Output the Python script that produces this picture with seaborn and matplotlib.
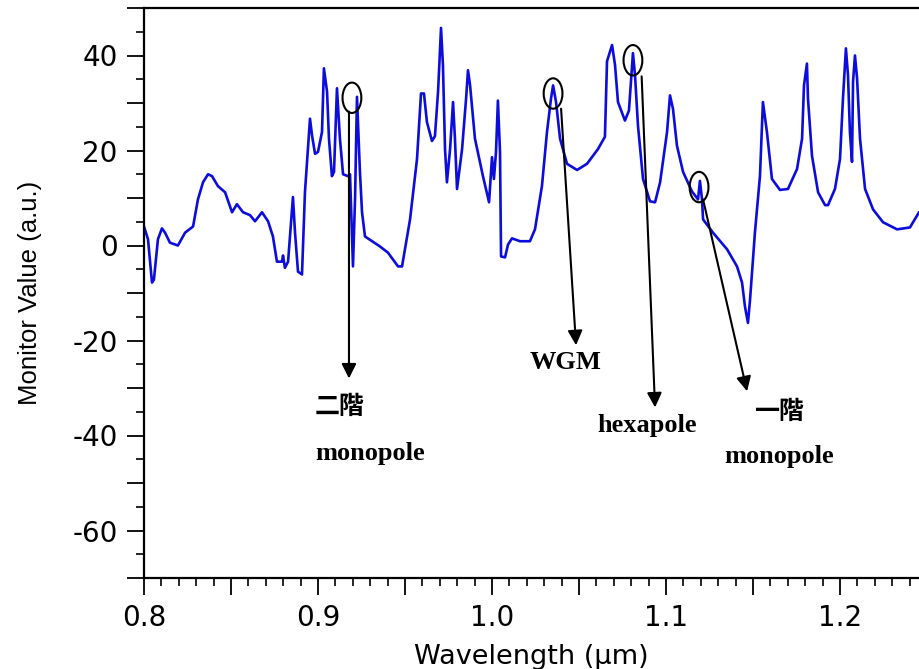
import matplotlib
matplotlib.use("Agg")
import matplotlib.pyplot as plt
import matplotlib.ticker as mticker
from matplotlib.patches import Ellipse
import seaborn as sns
import pandas as pd

# ---- data ----
wavelength = [
    0.8000, 0.8023, 0.8046, 0.8057, 0.8080, 0.8103, 0.8121, 0.8149, 0.8195, 0.8236,
    0.8282, 0.8310, 0.8339, 0.8368, 0.8391, 0.8425, 0.8466, 0.8506, 0.8534, 0.8569,
    0.8609, 0.8638, 0.8678, 0.8713, 0.8741, 0.8764, 0.8793, 0.8799, 0.8810, 0.8828,
    0.8856, 0.8868, 0.8885, 0.8908, 0.8925, 0.8954, 0.8966, 0.8983, 0.9000, 0.9023,
    0.9034, 0.9052, 0.9063, 0.9080, 0.9092, 0.9109, 0.9126, 0.9144, 0.9172, 0.9184,
    0.9201, 0.9213, 0.9224, 0.9241, 0.9253, 0.9270, 0.9356, 0.9402, 0.9460, 0.9483,
    0.9529, 0.9569, 0.9592, 0.9609, 0.9626, 0.9655, 0.9672, 0.9690, 0.9707, 0.9718,
    0.9730, 0.9741, 0.9759, 0.9776, 0.9787, 0.9799, 0.9828, 0.9851, 0.9862, 0.9874,
    0.9902, 0.9948, 0.9983, 1.0000, 1.0011, 1.0023, 1.0034, 1.0046, 1.0052, 1.0075,
    1.0092, 1.0115, 1.0161, 1.0218, 1.0247, 1.0287, 1.0316, 1.0339, 1.0351, 1.0368,
    1.0391, 1.0431, 1.0489, 1.0546, 1.0609, 1.0649, 1.0661, 1.0690, 1.0707, 1.0724,
    1.0764, 1.0787, 1.0810, 1.0822, 1.0839, 1.0868, 1.0908, 1.0937, 1.0966, 1.1006,
    1.1023, 1.1040, 1.1063, 1.1098, 1.1149, 1.1184, 1.1195, 1.1207, 1.1213, 1.1270,
    1.1351, 1.1408, 1.1437, 1.1454, 1.1471, 1.1483, 1.1511, 1.1540, 1.1557, 1.1580,
    1.1609, 1.1655, 1.1701, 1.1753, 1.1782, 1.1793, 1.1810, 1.1816, 1.1839, 1.1874,
    1.1914, 1.1931, 1.1971, 1.2000, 1.2017, 1.2034, 1.2046, 1.2057, 1.2069, 1.2075,
    1.2086, 1.2098, 1.2115, 1.2144, 1.2190, 1.2247, 1.2328, 1.2402, 1.2454,
]
monitor_value = [
    4.0, 1.3, -7.8, -7.2, 1.3, 3.6, 2.7, 0.6, 0.0, 2.7,
    4.0, 9.7, 13.3, 15.0, 14.6, 12.5, 11.2, 7.0, 8.7, 7.0,
    6.4, 5.1, 7.0, 5.1, 1.9, -3.4, -3.4, -2.1, -4.7, -3.4,
    10.2, 2.7, -5.5, -6.1, 11.2, 26.7, 23.1, 19.3, 19.7, 23.9,
    37.3, 32.4, 22.5, 14.6, 15.5, 33.1, 22.5, 15.0, 14.6, 15.0,
    -4.4, 10.0, 31.3, 15.5, 7.0, 1.9, -0.2, -1.5, -4.4, -4.4,
    5.5, 18.2, 32.0, 32.0, 26.0, 22.0, 23.0, 32.4, 45.8, 38.0,
    20.3, 13.3, 20.3, 30.2, 22.5, 11.9, 20.3, 30.9, 36.9, 33.7,
    22.5, 14.6, 9.1, 18.6, 14.0, 19.7, 30.5, 19.7, -2.3, -2.5,
    0.2, 1.5, 0.9, 0.9, 3.4, 12.5, 23.9, 30.9, 33.7, 30.2,
    22.5, 17.2, 15.9, 17.2, 20.3, 22.9, 38.8, 42.2, 38.0, 30.2,
    26.3, 28.4, 40.5, 35.8, 25.2, 14.0, 9.3, 9.1, 13.3, 23.9,
    31.6, 28.8, 21.0, 15.5, 11.4, 9.7, 13.6, 9.7, 5.5, 2.7,
    -0.8, -4.4, -7.8, -12.9, -16.3, -11.4, 2.7, 14.6, 30.2, 23.9,
    14.0, 11.7, 11.9, 16.1, 22.5, 33.7, 38.3, 30.9, 18.9, 11.2,
    8.5, 8.5, 11.9, 18.2, 30.9, 41.5, 35.8, 23.9, 17.6, 34.5,
    40.0, 35.2, 22.5, 11.9, 7.6, 4.9, 3.4, 3.8, 7.0,
]

x_ticks = [0.8, 0.9, 1.0, 1.1, 1.2]
y_ticks = [-60, -40, -20, 0, 20, 40]
x_label = "Wavelength (\u03bcm)"
y_label = "Monitor Value (a.u.)"

# annotation marks: circle centers, arrow start/tip, labels
circle_x = [0.9195, 1.0351, 1.0810, 1.1190]
circle_y = [31.1, 32.0, 39.0, 12.3]
arrow_from_x = [0.9178, 1.0397, 1.0860, 1.1213]
arrow_from_y = [28.2, 28.8, 35.6, 9.7]
arrow_to_x = [0.9178, 1.0483, 1.0937, 1.1466]
arrow_to_y = [-28.0, -21.0, -34.1, -30.7]
label_texts = ["\u4e8c\u968e", "monopole", "WGM", "hexapole", "\u4e00\u968e", "monopole"]
label_x = [0.9126, 0.9299, 1.0425, 1.0890, 1.1650, 1.1650]
label_y = [-33.9, -43.8, -24.6, -37.9, -35.0, -44.5]
label_cjk = [True, False, False, False, True, False]

df = pd.DataFrame({"wavelength": wavelength, "value": monitor_value})

sns.set_style("ticks")
plt.rcParams["font.family"] = ["DejaVu Sans"]
plt.rcParams["text.color"] = "black"
plt.rcParams["axes.labelcolor"] = "black"
plt.rcParams["xtick.color"] = "black"
plt.rcParams["ytick.color"] = "black"

fig = plt.figure(figsize=(9.19, 6.69), dpi=100)
ax = fig.add_axes([144 / 919, 1 - 578 / 669, 1 - 144 / 919, (578 - 8) / 669])

sns.lineplot(data=df, x="wavelength", y="value", ax=ax, color="#0c0cdc",
             linewidth=1.9, estimator=None, sort=False)

ax.set_xlim(0.8, 1.2454)
ax.set_ylim(-70, 50)

ax.xaxis.set_major_locator(mticker.MultipleLocator(0.05))
ax.xaxis.set_minor_locator(mticker.MultipleLocator(0.01))
ax.yaxis.set_major_locator(mticker.MultipleLocator(10))
ax.yaxis.set_minor_locator(mticker.MultipleLocator(5))


def xfmt(v, pos):
    for t in x_ticks:
        if abs(v - t) < 1e-6:
            return f"{t:.1f}"
    return ""


def yfmt(v, pos):
    for t in y_ticks:
        if abs(v - t) < 1e-6:
            return f"{t:d}"
    return ""


ax.xaxis.set_major_formatter(mticker.FuncFormatter(xfmt))
ax.yaxis.set_major_formatter(mticker.FuncFormatter(yfmt))

ax.tick_params(axis="both", which="major", direction="out", length=12, width=1.3,
               colors="black", labelsize=20, pad=7)
ax.tick_params(axis="both", which="minor", direction="out", length=6, width=1.2,
               colors="black")
for side in ["left", "bottom", "top"]:
    ax.spines[side].set_visible(True)
    ax.spines[side].set_linewidth(1.6)
    ax.spines[side].set_color("black")
ax.spines["right"].set_visible(False)

ax.set_xlabel(x_label, fontsize=19.5, labelpad=8, color="black")
ax.set_ylabel(y_label, fontsize=18.5, labelpad=22, color="black",
              family=["Liberation Sans", "DejaVu Sans"])

for cx, cy in zip(circle_x, circle_y):
    ax.add_patch(Ellipse((cx, cy), width=0.0108, height=6.4, fill=False,
                         edgecolor="black", linewidth=1.5, zorder=5))

for fx, fy, tx, ty in zip(arrow_from_x, arrow_from_y, arrow_to_x, arrow_to_y):
    ax.annotate("", xy=(tx, ty), xytext=(fx, fy),
                arrowprops=dict(arrowstyle="-|>", color="black", lw=1.5,
                                mutation_scale=22, shrinkA=0, shrinkB=0))

for txt, lx, ly, cjk in zip(label_texts, label_x, label_y, label_cjk):
    if cjk:
        ax.text(lx, ly, txt, ha="center", va="center", fontsize=18,
                fontweight="bold", color="black",
                family=["Noto Sans CJK TC", "DejaVu Sans"])
    else:
        ax.text(lx, ly, txt, ha="center", va="center", fontsize=19,
                fontweight="bold", color="black",
                family=["Liberation Serif", "DejaVu Serif"])

fig.savefig("out.png", dpi=100)
